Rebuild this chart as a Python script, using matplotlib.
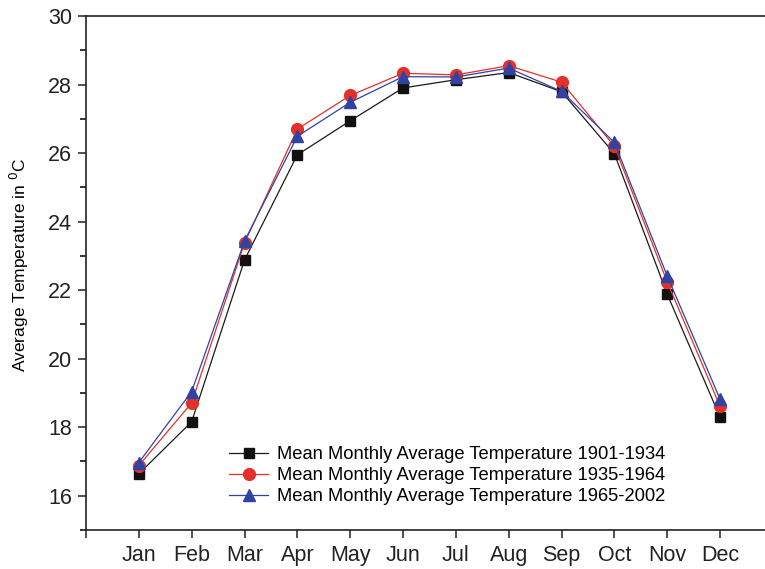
import matplotlib
matplotlib.use("Agg")
import matplotlib.pyplot as plt
from matplotlib.ticker import MultipleLocator

plt.rcParams['font.family'] = ['Liberation Sans', 'DejaVu Sans']

# monthly means for three periods
months = ['Jan', 'Feb', 'Mar', 'Apr', 'May', 'Jun',
          'Jul', 'Aug', 'Sep', 'Oct', 'Nov', 'Dec']
temp_1901_1934 = [16.64, 18.16, 22.88, 25.95, 26.94, 27.90,
                  28.14, 28.35, 27.79, 25.98, 21.88, 18.29]
temp_1935_1964 = [16.88, 18.71, 23.38, 26.70, 27.68, 28.33,
                  28.28, 28.55, 28.07, 26.20, 22.24, 18.61]
temp_1965_2002 = [16.97, 19.04, 23.43, 26.49, 27.48, 28.23,
                  28.22, 28.48, 27.80, 26.31, 22.41, 18.82]
labels = ['Mean Monthly Average Temperature 1901-1934',
          'Mean Monthly Average Temperature 1935-1964',
          'Mean Monthly Average Temperature 1965-2002']

x = list(range(1, len(months) + 1))

fig = plt.figure(figsize=(7.65, 5.69), dpi=100)
ax = fig.add_axes([0.1124, 0.0685, 0.8876, 0.9034])

ax.plot(x, temp_1901_1934, color='#1a1a1a', lw=0.9, marker='s', ms=7.5,
        mfc='#111111', mec='#111111', label=labels[0], zorder=3)
ax.plot(x, temp_1935_1964, color='#e2302a', lw=0.9, marker='o', ms=8.5,
        mfc='#e2302a', mec='#e2302a', label=labels[1], zorder=4)
ax.plot(x, temp_1965_2002, color='#3043a3', lw=0.9, marker='^', ms=9,
        mfc='#3043a3', mec='#3043a3', label=labels[2], zorder=5)

ax.set_xlim(0, 12.85)
ax.set_ylim(15, 30)
ax.set_xticks(range(0, 13))
ax.set_xticklabels([''] + months)
ax.yaxis.set_major_locator(MultipleLocator(2))
ax.yaxis.set_minor_locator(MultipleLocator(1))
ax.set_yticks([16, 18, 20, 22, 24, 26, 28, 30])

ax.spines['right'].set_visible(False)
for side in ['left', 'bottom', 'top']:
    ax.spines[side].set_linewidth(1.2)
    ax.spines[side].set_color('#222222')

ax.tick_params(axis='both', which='major', direction='out', length=6,
               width=1.1, labelsize=15.5, colors='#222222')
ax.tick_params(axis='y', which='minor', direction='out', length=4, width=1.1)
ax.tick_params(axis='x', pad=5)
ax.tick_params(axis='y', pad=4)

ax.set_ylabel('Average Temperature in $^0$C', fontsize=12.5)
ax.yaxis.set_label_coords(-0.0806, 0.516)

ax.legend(loc='upper left', bbox_to_anchor=(0.2106, 0.163), frameon=False,
          fontsize=13.2, handlelength=2.15, handletextpad=0.45,
          labelspacing=0.22, borderpad=0, borderaxespad=0)

fig.savefig('out.png', dpi=100)
